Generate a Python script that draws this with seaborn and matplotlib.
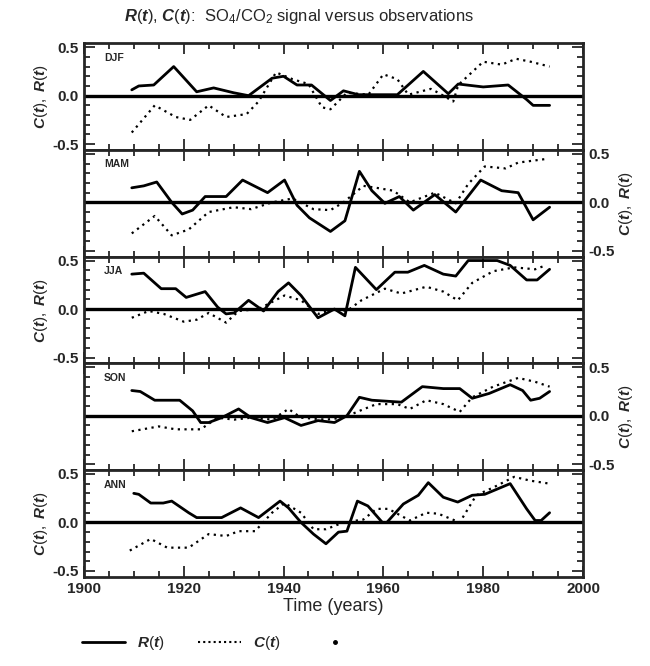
import numpy as np
import pandas as pd
import matplotlib.pyplot as plt
import matplotlib.ticker as mticker
from matplotlib.lines import Line2D
import seaborn as sns

# season panels, top to bottom
seasons = ['DJF', 'MAM', 'JJA', 'SON', 'ANN']

# R(t) : solid line
djf_r_years = [1909.6, 1911, 1914, 1918, 1922.6, 1926, 1930, 1933, 1937.7, 1940, 1942.7, 1945.6,
               1949.4, 1952, 1955, 1962.8, 1968, 1973, 1975, 1980, 1985, 1988.7, 1990, 1993.3]
djf_r = [0.06, 0.10, 0.11, 0.30, 0.04, 0.08, 0.03, 0.0, 0.18, 0.20, 0.11, 0.11,
         -0.05, 0.05, 0.01, 0.01, 0.25, 0.02, 0.12, 0.09, 0.11, -0.04, -0.10, -0.10]

mam_r_years = [1909.6, 1912, 1914.6, 1917.6, 1919.7, 1921.8, 1924.3, 1928.5, 1931.8, 1936.8, 1940.2,
               1942.7, 1945.2, 1949.4, 1952.3, 1955.2, 1957.7, 1960.3, 1963.2, 1966, 1970.3, 1974.5,
               1979.5, 1983.7, 1987, 1990, 1993.3]
mam_r = [0.15, 0.17, 0.21, 0.0, -0.12, -0.08, 0.06, 0.06, 0.23, 0.10, 0.23,
         -0.03, -0.16, -0.30, -0.19, 0.32, 0.12, -0.01, 0.06, -0.08, 0.08, -0.10,
         0.23, 0.12, 0.10, -0.18, -0.05]

jja_r_years = [1909.6, 1912, 1915.5, 1918.4, 1920.5, 1924.3, 1926.8, 1928.5, 1930.1, 1933, 1936,
               1938.9, 1941, 1943.5, 1946.9, 1950.2, 1952.3, 1954.4, 1958.6, 1962.3, 1964.9, 1968.2,
               1972, 1974.5, 1977, 1982.8, 1985.4, 1988.7, 1990.8, 1993.3]
jja_r = [0.36, 0.37, 0.21, 0.21, 0.12, 0.18, 0.02, -0.05, -0.04, 0.09, -0.02,
         0.18, 0.27, 0.14, -0.09, 0.0, -0.07, 0.43, 0.20, 0.38, 0.38, 0.45,
         0.36, 0.34, 0.50, 0.50, 0.45, 0.30, 0.30, 0.41]

son_r_years = [1909.6, 1911.3, 1914.2, 1919.2, 1921.8, 1923.4, 1925, 1927.6, 1931, 1933.5, 1936.8,
               1940.2, 1943.5, 1946.9, 1950.2, 1952.7, 1955.2, 1957.7, 1963.6, 1967.8, 1972, 1975.3,
               1977.8, 1981.2, 1985.4, 1987.9, 1989.5, 1991.3, 1993.3]
son_r = [0.26, 0.25, 0.16, 0.16, 0.05, -0.07, -0.07, -0.02, 0.07, -0.02, -0.07,
         -0.02, -0.10, -0.05, -0.07, 0.0, 0.19, 0.16, 0.14, 0.30, 0.28, 0.28,
         0.18, 0.23, 0.32, 0.26, 0.16, 0.18, 0.25]

ann_r_years = [1910, 1911, 1913.4, 1915.9, 1917.6, 1921, 1922.6, 1927.6, 1931.4, 1935, 1939.3,
               1941, 1943.5, 1946, 1948.5, 1951, 1952.7, 1954.8, 1956.9, 1959.8, 1960.7, 1964,
               1967, 1969, 1972, 1974.9, 1977.8, 1980.3, 1985.4, 1988.7, 1990.4, 1991.6, 1993.3]
ann_r = [0.30, 0.29, 0.20, 0.20, 0.22, 0.10, 0.05, 0.05, 0.15, 0.05, 0.22,
         0.15, 0.0, -0.12, -0.22, -0.10, -0.09, 0.22, 0.17, 0.0, 0.0, 0.19,
         0.28, 0.41, 0.26, 0.21, 0.28, 0.29, 0.40, 0.14, 0.02, 0.02, 0.10]

# C(t) : dotted line
djf_c_years = [1909.6, 1914.2, 1918.4, 1921.3, 1925, 1928.5, 1932.6, 1935, 1938.5, 1941.8, 1945,
               1947.7, 1949.4, 1952.7, 1957, 1960, 1962.8, 1965, 1969.5, 1971, 1974, 1975,
               1980, 1983.7, 1986.6, 1989.5, 1993.3]
djf_c = [-0.38, -0.10, -0.22, -0.25, -0.10, -0.22, -0.19, -0.06, 0.24, 0.17, 0.12,
         -0.12, -0.14, 0.03, 0.01, 0.22, 0.17, 0.01, 0.07, 0.03, -0.06, 0.11,
         0.35, 0.32, 0.38, 0.35, 0.30]

mam_c_years = [1909.6, 1914.2, 1917.6, 1921, 1925, 1930, 1933.5, 1937.7, 1941.8, 1946, 1949.4,
               1952, 1956, 1958.6, 1962, 1965.3, 1970.3, 1974.5, 1977, 1980.3, 1984.5, 1987, 1993]
mam_c = [-0.32, -0.14, -0.34, -0.28, -0.10, -0.05, -0.07, 0.0, 0.04, -0.07, -0.08,
         0.0, 0.17, 0.15, 0.12, 0.0, 0.10, -0.01, 0.19, 0.37, 0.35, 0.41, 0.45]

jja_c_years = [1909.6, 1913, 1916, 1920, 1922.6, 1925, 1928.5, 1931, 1935, 1940.2, 1943.5,
               1947, 1950.2, 1952.7, 1955.6, 1960.3, 1963.6, 1968.6, 1972, 1974.9, 1977.8,
               1982, 1986.2, 1990.4, 1992.5]
jja_c = [-0.09, -0.02, -0.05, -0.13, -0.11, -0.04, -0.14, -0.02, 0.0, 0.14, 0.09,
         -0.05, 0.0, -0.02, 0.09, 0.21, 0.16, 0.23, 0.18, 0.09, 0.27,
         0.39, 0.43, 0.41, 0.45]

son_c_years = [1909.6, 1915, 1918.4, 1923.4, 1926.8, 1930.1, 1933.5, 1937.7, 1941, 1943.5, 1948.5,
               1952, 1955.2, 1958.6, 1962.8, 1965.3, 1968.6, 1972, 1975.3, 1977.8, 1982, 1987,
               1990.4, 1993.3]
son_c = [-0.16, -0.11, -0.14, -0.14, -0.02, -0.04, -0.02, -0.04, 0.07, -0.02, -0.04,
         -0.02, 0.05, 0.12, 0.12, 0.07, 0.16, 0.12, 0.04, 0.19, 0.30, 0.39,
         0.35, 0.30]

ann_c_years = [1909.2, 1913.4, 1916.7, 1921, 1925, 1928.5, 1931, 1934.3, 1937.7, 1940.2, 1943.5,
               1946, 1948.5, 1952, 1956, 1958.6, 1961, 1965.3, 1968.6, 1971, 1975.3, 1978.6,
               1982, 1986.2, 1989.5, 1993.3]
ann_c = [-0.29, -0.17, -0.26, -0.26, -0.12, -0.14, -0.09, -0.09, 0.10, 0.20, 0.10,
         -0.07, -0.07, 0.0, 0.03, 0.14, 0.14, 0.02, 0.10, 0.09, 0.0, 0.28,
         0.36, 0.47, 0.43, 0.40]

r_series = {'DJF': (djf_r_years, djf_r), 'MAM': (mam_r_years, mam_r), 'JJA': (jja_r_years, jja_r),
            'SON': (son_r_years, son_r), 'ANN': (ann_r_years, ann_r)}
c_series = {'DJF': (djf_c_years, djf_c), 'MAM': (mam_c_years, mam_c), 'JJA': (jja_c_years, jja_c),
            'SON': (son_c_years, son_c), 'ANN': (ann_c_years, ann_c)}

sns.set_style('ticks')
plt.rcParams['font.family'] = ['Liberation Sans', 'DejaVu Sans']
plt.rcParams['mathtext.fontset'] = 'custom'
plt.rcParams['mathtext.it'] = 'Liberation Sans:italic:bold'
plt.rcParams['mathtext.rm'] = 'Liberation Sans'

fig, axes = plt.subplots(5, 1, figsize=(6.5, 6.66), dpi=100, sharex=True)
fig.subplots_adjust(left=0.129, right=0.897, top=0.935, bottom=0.134, hspace=0)

for i, (ax, s) in enumerate(zip(axes, seasons)):
    ry, rv = r_series[s]
    cy, cv = c_series[s]
    sns.lineplot(x=ry, y=rv, ax=ax, color='k', lw=2, estimator=None)
    sns.lineplot(x=cy, y=cv, ax=ax, color='k', lw=1.6, linestyle=(0, (1, 2)), estimator=None)
    ax.axhline(0, color='k', lw=2.4, zorder=1)

    ax.set_xlim(1900, 2000)
    ax.set_ylim(-0.56, 0.54)
    ax.yaxis.set_major_locator(mticker.FixedLocator([-0.5, 0.0, 0.5]))
    ax.yaxis.set_minor_locator(mticker.MultipleLocator(0.1))
    ax.yaxis.set_major_formatter(mticker.FormatStrFormatter('%.1f'))
    ax.xaxis.set_major_locator(mticker.MultipleLocator(20))
    ax.xaxis.set_minor_locator(mticker.MultipleLocator(5))
    ax.tick_params(which='both', direction='in', top=True, bottom=True, left=True, right=True,
                   width=1.3, labelsize=11)
    ax.tick_params(which='major', length=8)
    ax.tick_params(which='minor', length=4)
    for sp in ax.spines.values():
        sp.set_linewidth(2)

    if i % 2 == 0:
        ax.tick_params(axis='y', labelleft=True, labelright=False)
        ax.set_ylabel(r'$C(t),\ R(t)$', fontsize=11, labelpad=2)
    else:
        ax.tick_params(axis='y', labelleft=False, labelright=True)
        ax.yaxis.set_label_position('right')
        ax.set_ylabel(r'$C(t),\ R(t)$', fontsize=11, labelpad=2)
    for lab in ax.get_yticklabels():
        lab.set_fontweight('bold')

    ax.text(1904, 0.36, s, fontsize=7.5, fontweight='bold')

axes[-1].set_xticks([1900, 1920, 1940, 1960, 1980, 2000])
for lab in axes[-1].get_xticklabels():
    lab.set_fontweight('bold')
axes[-1].set_xlabel('Time (years)', fontsize=13, labelpad=2)

fig.text(0.19, 0.968, r'$R(t)$, $C(t)$:  SO$_4$/CO$_2$ signal versus observations',
         fontsize=12)

handles = [Line2D([], [], color='k', lw=2),
           Line2D([], [], color='k', lw=1.5, linestyle=(0, (1, 1.5))),
           Line2D([], [], color='k', lw=0, marker='.', markersize=5)]
fig.legend(handles, [r'$R(t)$', r'$C(t)$', ''], ncol=3, frameon=False, fontsize=11,
           loc='lower left', bbox_to_anchor=(0.105, 0.0), handlelength=2.8, columnspacing=2.2)

fig.savefig('out.png', dpi=100)
